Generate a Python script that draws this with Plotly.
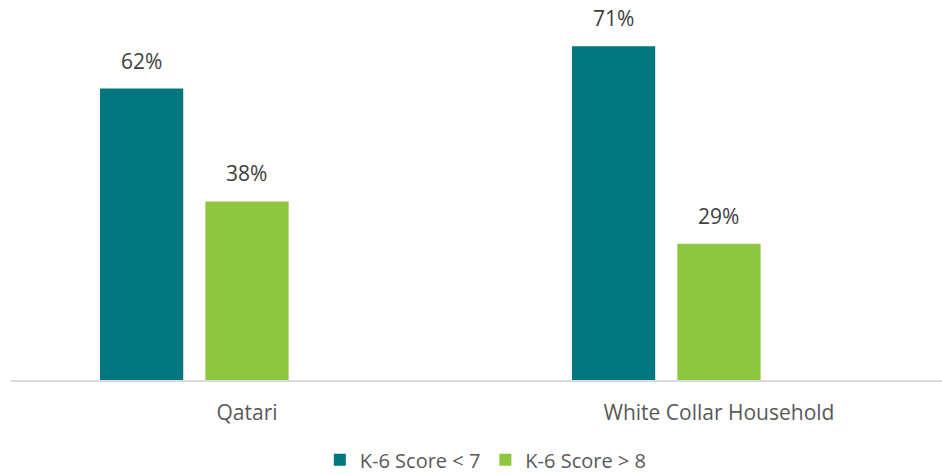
import plotly.graph_objects as go

# Share of respondents by K-6 psychological distress score
categories = ["Qatari", "White Collar Household"]
series_names = ["K-6 Score < 7", "K-6 Score > 8"]
low_score = [62, 71]
high_score = [38, 29]
colors = ["#00777F", "#8DC63F"]

label_font = dict(family="Open Sans, sans-serif", size=21, color="#404040")

fig = go.Figure()
for name, vals, col in zip(series_names, [low_score, high_score], colors):
    fig.add_trace(go.Bar(
        x=categories, y=vals, name=name, marker=dict(color=col, line_width=0),
        offsetgroup=name,
    ))
# empty third slot keeps the bar groups left of centre in each category
fig.add_trace(go.Bar(x=categories, y=[None, None], name="", offsetgroup="blank",
                     showlegend=False, hoverinfo="skip"))

fig.update_layout(
    width=942, height=475,
    margin=dict(l=11, r=0, t=4, b=95, autoexpand=False),
    plot_bgcolor="white", paper_bgcolor="white",
    barmode="group", bargap=0.33, bargroupgap=0.21,
    showlegend=True,
    legend=dict(orientation="h", x=0.51, xanchor="center",
                yref="container", y=0.032, yanchor="middle",
                font=dict(family="Open Sans, sans-serif", size=20, color="#595959"),
                itemwidth=30, tracegroupgap=0, traceorder="normal"),
    xaxis=dict(range=[-0.5, 1.4725], showline=True, linecolor="#D9D9D9", linewidth=1.5,
               showgrid=False, ticks="", ticklabelstandoff=13, automargin=False,
               tickfont=dict(family="Open Sans, sans-serif", size=21, color="#595959")),
    yaxis=dict(range=[0, 80], visible=False, showgrid=False, zeroline=False),
)

# value labels above each bar, placed in the same bar slots
slot = (1 - 0.33) / 3
for k, vals in enumerate([low_score, high_score]):
    for i, v in enumerate(vals):
        fig.add_annotation(x=i + (k - 1) * slot, y=v, xref="x", yref="y",
                           text=f"{v}%", showarrow=False, yanchor="bottom",
                           yshift=12, font=label_font)

fig.write_html("out.html")
